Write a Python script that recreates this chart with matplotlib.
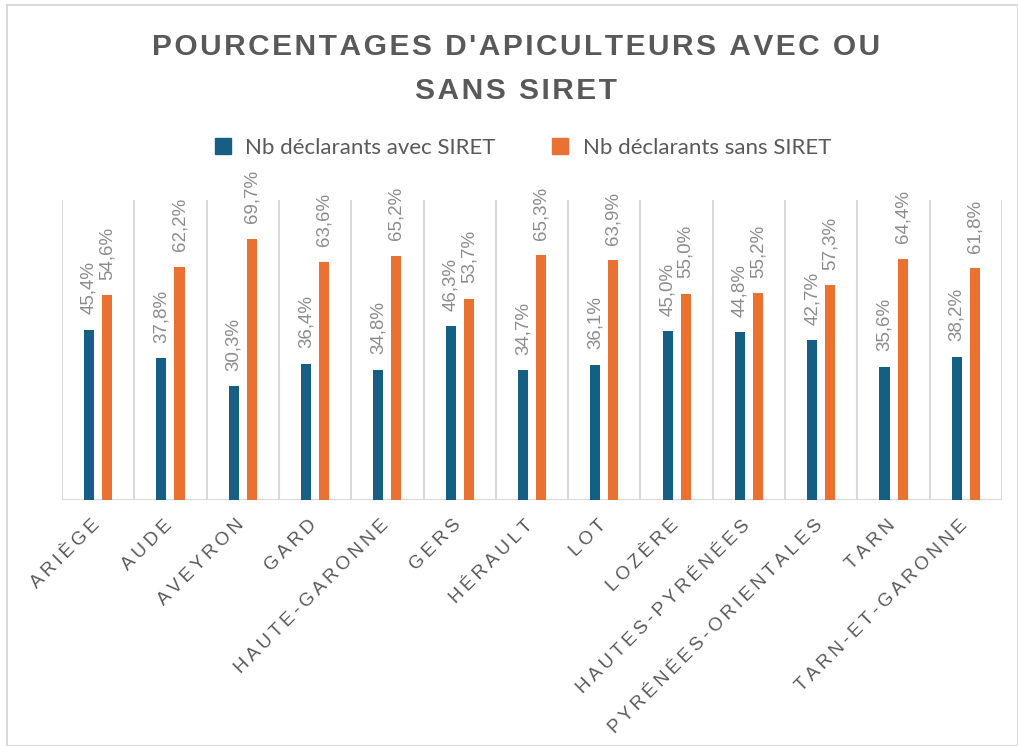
import numpy as np
import matplotlib
matplotlib.use("Agg")
from matplotlib import pyplot as plt
from matplotlib.patches import Rectangle
from matplotlib.lines import Line2D
from matplotlib.transforms import ScaledTranslation

departements = ["ARIÈGE", "AUDE", "AVEYRON", "GARD", "HAUTE-GARONNE", "GERS",
                "HÉRAULT", "LOT", "LOZÈRE", "HAUTES-PYRÉNÉES",
                "PYRÉNÉES-ORIENTALES", "TARN", "TARN-ET-GARONNE"]
avec_siret = [45.4, 37.8, 30.3, 36.4, 34.8, 46.3, 34.7, 36.1, 45.0, 44.8, 42.7, 35.6, 38.2]
sans_siret = [54.6, 62.2, 69.7, 63.6, 65.2, 53.7, 65.3, 63.9, 55.0, 55.2, 57.3, 64.4, 61.8]

BLUE = "#156082"
ORANGE = "#E97132"
GRID = "#D9D9D9"
TXT = "#595959"
LBL = "#8C8C8C"

fams = ["Liberation Sans", "DejaVu Sans"]


def spaced(s, sep="\u200a"):
    # fake letter spacing
    return sep.join(s)


fig = plt.figure(figsize=(10.18, 7.46), dpi=100)
W, H = 1018, 746
ax = fig.add_axes([62 / W, (H - 500) / H, 940 / W, 300 / H])

x = np.arange(len(departements))
w = 0.14
off = 0.125
b1 = ax.bar(x - off, avec_siret, w, color=BLUE, zorder=3)
b2 = ax.bar(x + off, sans_siret, w, color=ORANGE, zorder=3)

for bars, vals in [(b1, avec_siret), (b2, sans_siret)]:
    for r, v in zip(bars, vals):
        ax.annotate(f"{v:.1f}%".replace(".", ","),
                    (r.get_x() + r.get_width() / 2, r.get_height()),
                    xytext=(0, 11), textcoords="offset points",
                    rotation=90, ha="center", va="bottom",
                    fontsize=13.5, color=LBL, family=fams)

ax.set_xlim(-0.5, len(departements) - 0.5)
ax.set_ylim(0, 80)
for b in np.arange(-0.5, len(departements), 1):
    ax.axvline(b, color=GRID, lw=1.5, zorder=1)
ax.axhline(0, color=GRID, lw=1.5, zorder=2)
for s in ax.spines.values():
    s.set_visible(False)
ax.set_yticks([])
ax.set_xticks(x)
ax.set_xticklabels([spaced(d, "\u2009") for d in departements], rotation=45,
                   ha="right", rotation_mode="anchor", fontsize=13.5,
                   color=TXT, family=fams)
ax.tick_params(axis="x", length=0, pad=12)
shift = ScaledTranslation(-7 / 100, 0, fig.dpi_scale_trans)
for lab in ax.get_xticklabels():
    lab.set_transform(lab.get_transform() + shift)

title = spaced("POURCENTAGES D'APICULTEURS AVEC OU") + "\n" + spaced("SANS SIRET")
fig.text(516 / W, 1 - 69 / H, title, ha="center", va="center", fontsize=21.5,
         fontweight="bold", color=TXT, family=fams, linespacing=1.72)

handles = [Line2D([], [], marker="s", ls="", color=BLUE, markersize=11),
           Line2D([], [], marker="s", ls="", color=ORANGE, markersize=11)]
fig.legend(handles, ["Nb déclarants avec SIRET", "Nb déclarants sans SIRET"],
           loc="center", bbox_to_anchor=(516 / W, 1 - 148 / H), ncol=2,
           frameon=False, handletextpad=0.0, columnspacing=1.9,
           prop={"family": ["Lato", "DejaVu Sans"], "size": 16}, labelcolor=TXT)

fig.patches.append(Rectangle((7 / W, 0), 1 - 7 / W, 1 - 5 / H, transform=fig.transFigure,
                             fill=False, edgecolor=GRID, lw=1.5))

fig.savefig("out.png", dpi=100, facecolor="white")
